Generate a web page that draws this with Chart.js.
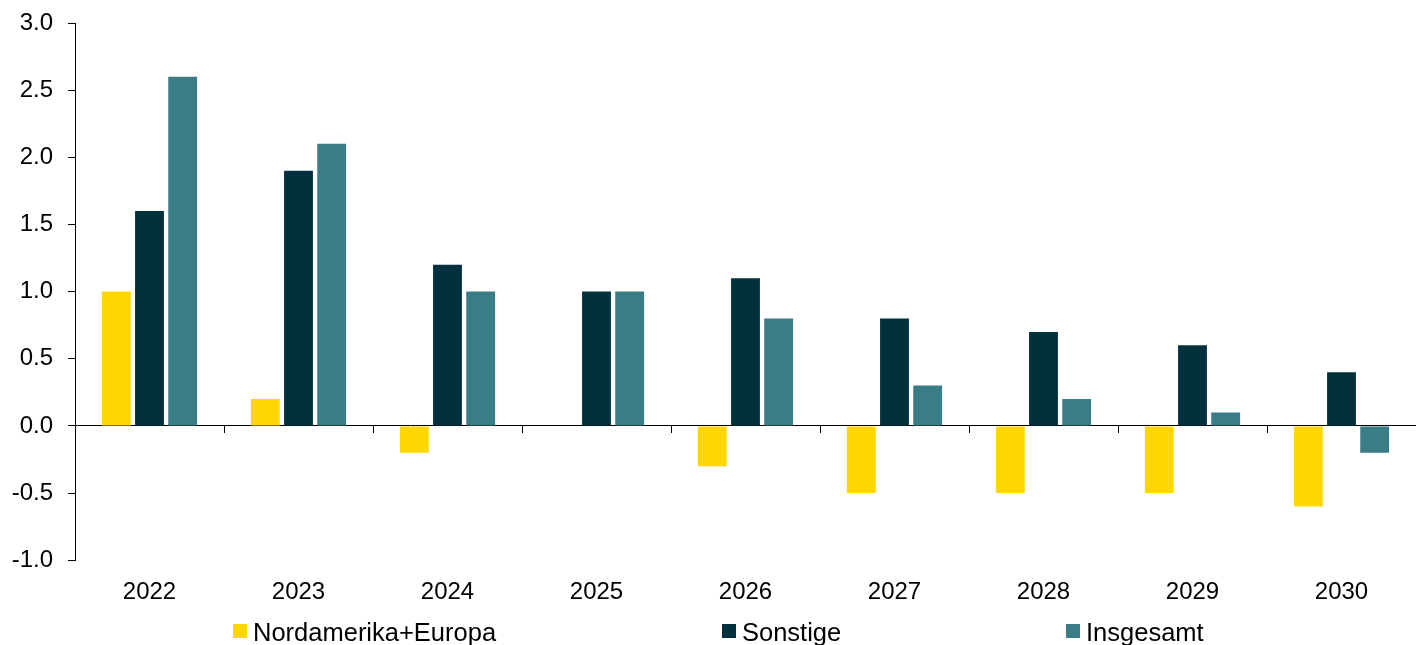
<!DOCTYPE html>
<html>
<head>
<meta charset="utf-8">
<script src="https://cdn.jsdelivr.net/npm/chart.js@4/dist/chart.umd.min.js"></script>
<style>
    body { margin: 0; background: #fff; }
    #wrap { position: relative; width: 1416px; height: 645px; overflow: hidden; }
    .legend-item { position: absolute; top: 618px; height: 24px; line-height: 24px;
        font: 25.5px "Liberation Sans", Arial, sans-serif; color: #000; white-space: nowrap; }
    .legend-box { position: absolute; left: -20px; top: 6px; width: 14px; height: 14px; }
</style>
</head>
<body>
<div id="wrap">
    <canvas id="chart" width="1416" height="645"></canvas>
</div>
<script>
const categories = ['2022', '2023', '2024', '2025', '2026', '2027', '2028', '2029', '2030'];
const nordamerikaEuropa = [1.0, 0.2, -0.2, 0.0, -0.3, -0.5, -0.5, -0.5, -0.6];
const sonstige = [1.6, 1.9, 1.2, 1.0, 1.1, 0.8, 0.7, 0.6, 0.4];
const insgesamt = [2.6, 2.1, 1.0, 1.0, 0.8, 0.3, 0.2, 0.1, -0.2];
const seriesNames = ['Nordamerika+Europa', 'Sonstige', 'Insgesamt'];
const yTicks = { min: -1.0, max: 3.0, step: 0.5 };

const colors = ['#ffd700', '#03303d', '#3a7d87'];
const fontFamily = '"Liberation Sans", Arial, sans-serif';

const chart = new Chart(document.getElementById('chart'), {
    type: 'bar',
    data: {
        labels: categories,
        datasets: [nordamerikaEuropa, sonstige, insgesamt].map((values, i) => ({
            label: seriesNames[i],
            data: values,
            backgroundColor: colors[i],
            borderWidth: 0,
            categoryPercentage: 0.668,
            barPercentage: 0.87,
        }))
    },
    options: {
        responsive: false,
        animation: false,
        layout: { padding: { top: 23, left: 12, right: 0, bottom: 20 } },
        plugins: {
            legend: { display: false },
            tooltip: { enabled: false }
        },
        scales: {
            x: {
                position: 'bottom',
                offset: true,
                grid: { display: false, drawTicks: false },
                border: { display: false },
                ticks: { color: '#000', font: { family: fontFamily, size: 24 }, padding: 18, maxRotation: 0 }
            },
            // axis line at zero with tick marks between the years
            x2: {
                type: 'category',
                labels: categories,
                position: { y: 0 },
                offset: true,
                grid: { offset: true, drawOnChartArea: false, drawTicks: true, tickLength: 7, color: '#000' },
                border: { display: true, color: '#000', width: 1 },
                ticks: { display: false }
            },
            y: {
                min: yTicks.min,
                max: yTicks.max,
                grid: { drawOnChartArea: false, drawTicks: true, tickLength: 7, color: '#000' },
                border: { display: true, color: '#000', width: 1 },
                afterFit: (scale) => {
                    scale.width = 63;
                    scale.paddingTop = 0; // let layout.padding.top decide where 3.0 sits
                },
                ticks: {
                    stepSize: yTicks.step,
                    color: '#000',
                    padding: 15,
                    font: { family: fontFamily, size: 24 },
                    callback: (v) => Number(v).toFixed(1)
                }
            }
        }
    }
});

// legend below the chart, spread out like the original
const legendLeft = [253, 742, 1086];
const wrap = document.getElementById('wrap');
chart.data.datasets.forEach((ds, i) => {
    const item = document.createElement('div');
    item.className = 'legend-item';
    item.style.left = legendLeft[i] + 'px';
    const box = document.createElement('span');
    box.className = 'legend-box';
    box.style.background = ds.backgroundColor;
    item.appendChild(box);
    item.appendChild(document.createTextNode(ds.label));
    wrap.appendChild(item);
});
</script>
</body>
</html>
